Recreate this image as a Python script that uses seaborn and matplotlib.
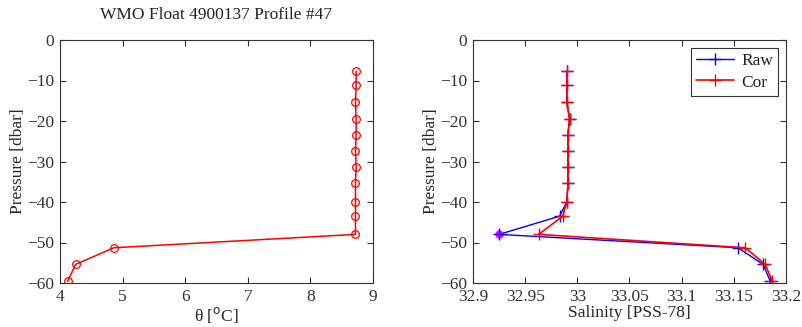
import numpy as np
import pandas as pd
import matplotlib
matplotlib.use('Agg')
import matplotlib.pyplot as plt
import seaborn as sns

pres = [-7.7, -11.2, -15.4, -19.5, -23.4, -27.3, -31.3, -35.4, -39.9, -43.5, -48.0, -51.3, -55.4, -59.6]
theta = [8.73, 8.73, 8.72, 8.73, 8.73, 8.72, 8.73, 8.72, 8.72, 8.72, 8.72, 4.86, 4.25, 4.12]
sal_raw = [32.990, 32.990, 32.990, 32.9925, 32.991, 32.991, 32.991, 32.991, 32.990, 32.983, 32.925, 33.154, 33.178, 33.185]
sal_cor = [32.990, 32.990, 32.990, 32.9925, 32.991, 32.991, 32.991, 32.991, 32.990, 32.986, 32.963, 33.161, 33.180, 33.187]

df = pd.DataFrame({'pres': pres, 'theta': theta, 'raw': sal_raw, 'cor': sal_cor})

sns.set_style('ticks')
plt.rcParams['font.family'] = ['Liberation Serif', 'DejaVu Serif']
plt.rcParams['font.size'] = 12.5
plt.rcParams['axes.edgecolor'] = '#333333'
plt.rcParams['xtick.color'] = '#333333'
plt.rcParams['ytick.color'] = '#333333'
plt.rcParams['text.color'] = '#222222'

fig = plt.figure(figsize=(8.02, 3.27), dpi=100)
ax1 = fig.add_axes([60/802, 44/327, 313/802, 243/327])
ax2 = fig.add_axes([473/802, 44/327, 313/802, 243/327])

sns.lineplot(data=df, x='theta', y='pres', sort=False, estimator=None, ax=ax1,
             color='red', lw=1.1, marker='o', markersize=5.5, markerfacecolor='none',
             markeredgecolor='red', markeredgewidth=0.9)
ax1.set_xlim(4, 9)
ax1.set_ylim(-60, 0)
ax1.set_xlabel('θ [$^{\\rm o}$C]', labelpad=0)
ax1.set_ylabel('Pressure [dbar]', labelpad=1)
ax1.set_title('WMO Float 4900137 Profile #47', fontsize=12.5, pad=15)

# flagged raw point
ax2.plot(df['raw'][10], df['pres'][10], 'o', color='magenta', markersize=5, zorder=1)
sns.lineplot(data=df, x='raw', y='pres', sort=False, estimator=None, ax=ax2,
             color='blue', lw=1, marker='+', markersize=8, markeredgewidth=1,
             markeredgecolor='blue', label='Raw', zorder=2)
sns.lineplot(data=df, x='cor', y='pres', sort=False, estimator=None, ax=ax2,
             color='red', lw=1.2, marker='+', markersize=8, markeredgewidth=1,
             markeredgecolor='red', label='Cor', zorder=3)
ax2.set_xlim(32.9, 33.2)
ax2.set_ylim(-60, 0)
ax2.set_xticks([32.9, 32.95, 33.0, 33.05, 33.1, 33.15, 33.2])
ax2.set_xticklabels(['32.9', '32.95', '33', '33.05', '33.1', '33.15', '33.2'])
ax2.set_xlabel('Salinity [PSS-78]', labelpad=0)
ax2.set_ylabel('Pressure [dbar]', labelpad=1)
leg = ax2.legend(loc='upper right', fancybox=False, framealpha=1, edgecolor='#333333',
                 fontsize=12.5, handlelength=2.2, borderaxespad=0.45,
                 borderpad=0.3, labelspacing=0.3, handletextpad=0.4)
leg.get_frame().set_linewidth(0.8)

for ax in (ax1, ax2):
    ax.set_yticks(range(-60, 1, 10))
    ax.tick_params(direction='in', top=True, right=True, length=4, width=0.8, labelsize=12.5, pad=4)
    for s in ax.spines.values():
        s.set_linewidth(0.8)
        s.set_visible(True)

fig.savefig('out.png', dpi=100)
